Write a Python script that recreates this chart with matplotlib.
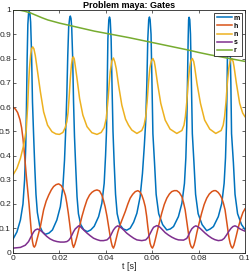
import numpy as np
import matplotlib
matplotlib.use("Agg")
import matplotlib.pyplot as plt

plt.rcParams["font.family"] = ["Liberation Sans", "DejaVu Sans"]

# --- values (time in s, gate value) ---
t_m = [0.0000, 0.0017, 0.0032, 0.0043, 0.0050, 0.0055, 0.0058, 0.0061, 0.0064, 0.0067, 0.0070, 0.0073, 0.0076, 0.0080,
       0.0084, 0.0089, 0.0094, 0.0099, 0.0105, 0.0115, 0.0127, 0.0139, 0.0155,
       0.0170, 0.0189, 0.0204, 0.0215, 0.0222, 0.0227, 0.0232, 0.0236, 0.0240, 0.0244, 0.0247, 0.0250, 0.0253, 0.0257,
       0.0261, 0.0265, 0.0270, 0.0276, 0.0282, 0.0292, 0.0305, 0.0320,
       0.0335, 0.0350, 0.0369, 0.0383, 0.0393, 0.0399, 0.0403, 0.0406, 0.0409, 0.0413, 0.0416, 0.0419, 0.0423, 0.0427,
       0.0431, 0.0436, 0.0442, 0.0449, 0.0460, 0.0475, 0.0490,
       0.0505, 0.0520, 0.0534, 0.0548, 0.0558, 0.0566, 0.0572, 0.0577, 0.0581, 0.0585, 0.0588, 0.0591, 0.0595, 0.0599,
       0.0603, 0.0610, 0.0617, 0.0628, 0.0645, 0.0663,
       0.0678, 0.0692, 0.0713, 0.0728, 0.0739, 0.0745, 0.0749, 0.0752, 0.0755, 0.0757, 0.0759, 0.0762, 0.0765, 0.0769,
       0.0773, 0.0780, 0.0787, 0.0798, 0.0815, 0.0835,
       0.0850, 0.0864, 0.0885, 0.0900, 0.0910, 0.0916, 0.0920, 0.0923, 0.0925, 0.0927, 0.0928, 0.0931, 0.0935, 0.0939,
       0.0942, 0.0950, 0.0957, 0.0968, 0.0985, 0.1000]
m = [0.055, 0.085, 0.134, 0.200, 0.300, 0.440, 0.600, 0.800, 0.940, 0.985, 0.995, 0.985, 0.950, 0.820,
     0.620, 0.480, 0.350, 0.240, 0.165, 0.110, 0.085, 0.075, 0.080,
     0.093, 0.134, 0.189, 0.270, 0.380, 0.500, 0.650, 0.810, 0.930, 0.965, 0.975, 0.965, 0.930, 0.810,
     0.620, 0.480, 0.360, 0.230, 0.160, 0.115, 0.094, 0.086,
     0.093, 0.108, 0.148, 0.203, 0.285, 0.400, 0.500, 0.680, 0.880, 0.960, 0.971, 0.960, 0.880, 0.680,
     0.500, 0.370, 0.240, 0.160, 0.115, 0.097, 0.092,
     0.100, 0.125, 0.162, 0.230, 0.326, 0.440, 0.540, 0.700, 0.880, 0.960, 0.971, 0.960, 0.900, 0.700,
     0.490, 0.370, 0.240, 0.160, 0.115, 0.093,
     0.097, 0.107, 0.148, 0.203, 0.285, 0.390, 0.520, 0.700, 0.880, 0.960, 0.970, 0.960, 0.900, 0.700,
     0.490, 0.370, 0.240, 0.160, 0.115, 0.090,
     0.097, 0.107, 0.148, 0.203, 0.285, 0.390, 0.520, 0.700, 0.880, 0.960, 0.970, 0.960, 0.900, 0.700,
     0.490, 0.370, 0.240, 0.160, 0.115, 0.095]

t_h = [0.0000, 0.0010, 0.0020, 0.0030, 0.0037, 0.0043, 0.0050, 0.0057, 0.0063, 0.0069, 0.0074, 0.0079, 0.0084, 0.0088,
       0.0092, 0.0097, 0.0103, 0.0110, 0.0118, 0.0125, 0.0132, 0.0143, 0.0154, 0.0165, 0.0175, 0.0186, 0.0197,
       0.0208, 0.0218, 0.0226, 0.0232, 0.0238, 0.0244, 0.0251, 0.0256, 0.0261, 0.0267, 0.0276, 0.0286, 0.0297,
       0.0308, 0.0319, 0.0330, 0.0340, 0.0351, 0.0362, 0.0373, 0.0383, 0.0390, 0.0397, 0.0405, 0.0412, 0.0418,
       0.0423, 0.0428, 0.0433, 0.0438, 0.0445, 0.0452, 0.0460, 0.0468, 0.0476, 0.0484, 0.0495, 0.0505, 0.0516,
       0.0527, 0.0538, 0.0547, 0.0555, 0.0563, 0.0570, 0.0576, 0.0581, 0.0586, 0.0591, 0.0596, 0.0601, 0.0607,
       0.0613, 0.0620, 0.0630, 0.0641, 0.0652, 0.0663, 0.0674, 0.0684, 0.0695, 0.0706, 0.0717, 0.0728, 0.0735,
       0.0742, 0.0748, 0.0754, 0.0759, 0.0763, 0.0768, 0.0774, 0.0780, 0.0786, 0.0792, 0.0802, 0.0813, 0.0824,
       0.0835, 0.0846, 0.0857, 0.0866, 0.0874, 0.0884, 0.0892, 0.0900, 0.0907, 0.0914, 0.0920, 0.0926, 0.0931,
       0.0936, 0.0941, 0.0946, 0.0952, 0.0958, 0.0965, 0.0972, 0.0982, 0.0991, 0.1000]
h = [0.598, 0.592, 0.577, 0.548, 0.515, 0.470, 0.400, 0.320, 0.260, 0.200, 0.140, 0.085, 0.045, 0.027,
     0.022, 0.030, 0.052, 0.078, 0.107, 0.142, 0.176, 0.212, 0.237, 0.258, 0.272, 0.280, 0.283,
     0.276, 0.258, 0.235, 0.203, 0.165, 0.121, 0.066, 0.035, 0.021, 0.035, 0.066, 0.105, 0.148,
     0.185, 0.217, 0.237, 0.248, 0.255, 0.258, 0.254, 0.237, 0.215, 0.189, 0.150, 0.107, 0.072,
     0.045, 0.026, 0.018, 0.030, 0.058, 0.085, 0.110, 0.130, 0.150, 0.169, 0.200, 0.224, 0.240,
     0.251, 0.255, 0.250, 0.237, 0.215, 0.189, 0.150, 0.107, 0.070, 0.038, 0.024, 0.018, 0.030,
     0.052, 0.080, 0.120, 0.162, 0.198, 0.224, 0.241, 0.251, 0.255, 0.255, 0.247, 0.230, 0.206,
     0.176, 0.135, 0.093, 0.060, 0.038, 0.024, 0.018, 0.030, 0.052, 0.080, 0.120, 0.162, 0.198,
     0.224, 0.241, 0.251, 0.255, 0.255, 0.248, 0.238, 0.224, 0.203, 0.176, 0.135, 0.093, 0.060,
     0.038, 0.024, 0.018, 0.030, 0.052, 0.080, 0.107, 0.140, 0.165, 0.180]

t_n = [0.0000, 0.0017, 0.0032, 0.0046, 0.0057, 0.0063, 0.0067, 0.0071, 0.0076, 0.0080, 0.0085, 0.0090, 0.0096, 0.0106,
       0.0118, 0.0132, 0.0149, 0.0168, 0.0185, 0.0200, 0.0215, 0.0225, 0.0232, 0.0237, 0.0242, 0.0247, 0.0252,
       0.0256, 0.0260, 0.0264, 0.0268, 0.0276, 0.0287, 0.0301, 0.0319, 0.0340, 0.0362, 0.0380, 0.0393, 0.0402,
       0.0410, 0.0415, 0.0419, 0.0426, 0.0433, 0.0439, 0.0445, 0.0455, 0.0469, 0.0485, 0.0498, 0.0512, 0.0534,
       0.0555, 0.0565, 0.0572, 0.0578, 0.0584, 0.0590, 0.0596, 0.0603, 0.0609, 0.0613, 0.0623, 0.0637, 0.0656,
       0.0677, 0.0706, 0.0728, 0.0737, 0.0743, 0.0749, 0.0755, 0.0761, 0.0766, 0.0773, 0.0779, 0.0783, 0.0793,
       0.0808, 0.0826, 0.0848, 0.0874, 0.0897, 0.0906, 0.0912, 0.0918, 0.0924, 0.0930, 0.0936, 0.0943, 0.0949,
       0.0953, 0.0963, 0.0977, 0.0990, 0.1000]
n = [0.320, 0.347, 0.388, 0.443, 0.505, 0.600, 0.690, 0.760, 0.815, 0.840, 0.848, 0.840, 0.813, 0.745,
     0.663, 0.580, 0.525, 0.498, 0.489, 0.487, 0.495, 0.515, 0.539, 0.575, 0.640, 0.717, 0.775,
     0.800, 0.807, 0.798, 0.772, 0.717, 0.635, 0.567, 0.519, 0.494, 0.487, 0.495, 0.515, 0.553,
     0.635, 0.700, 0.745, 0.790, 0.802, 0.785, 0.758, 0.690, 0.608, 0.550, 0.525, 0.505, 0.491,
     0.503, 0.525, 0.560, 0.620, 0.700, 0.760, 0.789, 0.800, 0.787, 0.765, 0.697, 0.615, 0.546,
     0.509, 0.491, 0.503, 0.525, 0.560, 0.620, 0.700, 0.760, 0.789, 0.800, 0.787, 0.765, 0.697,
     0.615, 0.546, 0.509, 0.491, 0.503, 0.525, 0.560, 0.620, 0.700, 0.760, 0.789, 0.800, 0.787,
     0.765, 0.697, 0.615, 0.575, 0.560]

t_s = [0.0000, 0.0032, 0.0053, 0.0067, 0.0075, 0.0082, 0.0089, 0.0096, 0.0106, 0.0115, 0.0125, 0.0135, 0.0146,
       0.0160, 0.0175, 0.0190, 0.0204, 0.0220, 0.0232, 0.0240, 0.0247, 0.0254, 0.0261, 0.0268, 0.0276, 0.0283,
       0.0290, 0.0297, 0.0308, 0.0319, 0.0333, 0.0347, 0.0362, 0.0376, 0.0390, 0.0405, 0.0412, 0.0419, 0.0426,
       0.0433, 0.0442, 0.0451, 0.0460, 0.0469, 0.0480, 0.0490, 0.0505, 0.0520, 0.0534, 0.0555, 0.0572, 0.0582,
       0.0591, 0.0599, 0.0606, 0.0620, 0.0627, 0.0634, 0.0645, 0.0656, 0.0670, 0.0685, 0.0700, 0.0713, 0.0735,
       0.0749, 0.0756, 0.0763, 0.0771, 0.0780, 0.0788, 0.0797, 0.0806, 0.0817, 0.0828, 0.0842, 0.0857, 0.0870,
       0.0885, 0.0900, 0.0910, 0.0921, 0.0930, 0.0940, 0.0948, 0.0957, 0.0966, 0.0979, 0.0990, 0.1000]
s = [0.018, 0.021, 0.030, 0.045, 0.060, 0.073, 0.085, 0.093, 0.097, 0.093, 0.086, 0.076, 0.066,
     0.056, 0.049, 0.045, 0.043, 0.043, 0.045, 0.050, 0.059, 0.072, 0.086, 0.097, 0.104, 0.110,
     0.107, 0.100, 0.090, 0.080, 0.069, 0.059, 0.053, 0.049, 0.049, 0.052, 0.058, 0.066, 0.080,
     0.093, 0.104, 0.110, 0.106, 0.100, 0.090, 0.080, 0.069, 0.059, 0.052, 0.049, 0.052, 0.062,
     0.078, 0.093, 0.104, 0.111, 0.108, 0.104, 0.093, 0.082, 0.072, 0.063, 0.056, 0.052, 0.051,
     0.058, 0.070, 0.085, 0.098, 0.106, 0.110, 0.106, 0.100, 0.090, 0.080, 0.069, 0.059, 0.053,
     0.049, 0.051, 0.058, 0.073, 0.087, 0.100, 0.107, 0.110, 0.106, 0.097, 0.092, 0.088]

t_r = [0.0000, 0.0030, 0.0050, 0.0075, 0.0100, 0.0125, 0.0150, 0.0200, 0.0250, 0.0300, 0.0350, 0.0400, 0.0450,
       0.0500, 0.0550, 0.0600, 0.0650, 0.0700, 0.0750, 0.0800, 0.0850, 0.0900, 0.0950, 0.1000]
r = [1.000, 0.999, 0.995, 0.988, 0.978, 0.968, 0.959, 0.946, 0.935, 0.924, 0.913, 0.904, 0.895,
     0.886, 0.876, 0.866, 0.856, 0.846, 0.836, 0.825, 0.815, 0.806, 0.797, 0.788]

series = [("m", t_m, m), ("h", t_h, h), ("n", t_n, n), ("s", t_s, s), ("r", t_r, r)]
colors = ["#0072BD", "#D95319", "#EDB120", "#7E2F8E", "#77AC30"]

x_ticks = [0, 0.02, 0.04, 0.06, 0.08, 0.1]
x_labels = ["0", "0.02", "0.04", "0.06", "0.08", "0.1"]
y_ticks = [0, 0.1, 0.2, 0.3, 0.4, 0.5, 0.6, 0.7, 0.8, 0.9, 1]
y_labels = ["0", "0.1", "0.2", "0.3", "0.4", "0.5", "0.6", "0.7", "0.8", "0.9", "1"]

dark = "#262626"
fig = plt.figure(figsize=(2.49, 2.74), dpi=100)
ax = fig.add_axes([13 / 249, 21.5 / 274, 232 / 249, 242.5 / 274])

for (name, tt, vv), c in zip(series, colors):
    ax.plot(tt, vv, color=c, lw=1.1, label=name)

ax.set_xlim(0, 0.1)
ax.set_ylim(0, 1)
ax.set_xticks(x_ticks)
ax.set_xticklabels(x_labels)
ax.set_yticks(y_ticks)
ax.set_yticklabels(y_labels)
ax.tick_params(direction="in", length=2.5, width=0.5, colors=dark, labelsize=6,
               top=True, right=True, pad=1.5)
for sp in ax.spines.values():
    sp.set_color(dark)
    sp.set_linewidth(0.6)

ax.set_title("Problem maya: Gates", fontsize=6.5, fontweight="bold", color="black", pad=1.5)
ax.set_xlabel("t [s]", fontsize=6.5, color=dark, labelpad=0.5)

leg = ax.legend(loc="upper right", fontsize=5, frameon=True, fancybox=False,
                edgecolor=dark, framealpha=1, labelspacing=0.15, handlelength=2.2,
                handletextpad=0.3, borderpad=0.3, borderaxespad=0.4)
leg.get_frame().set_linewidth(0.6)
for txt in leg.get_texts():
    txt.set_fontweight("bold")

fig.savefig("out.png", dpi=100)
